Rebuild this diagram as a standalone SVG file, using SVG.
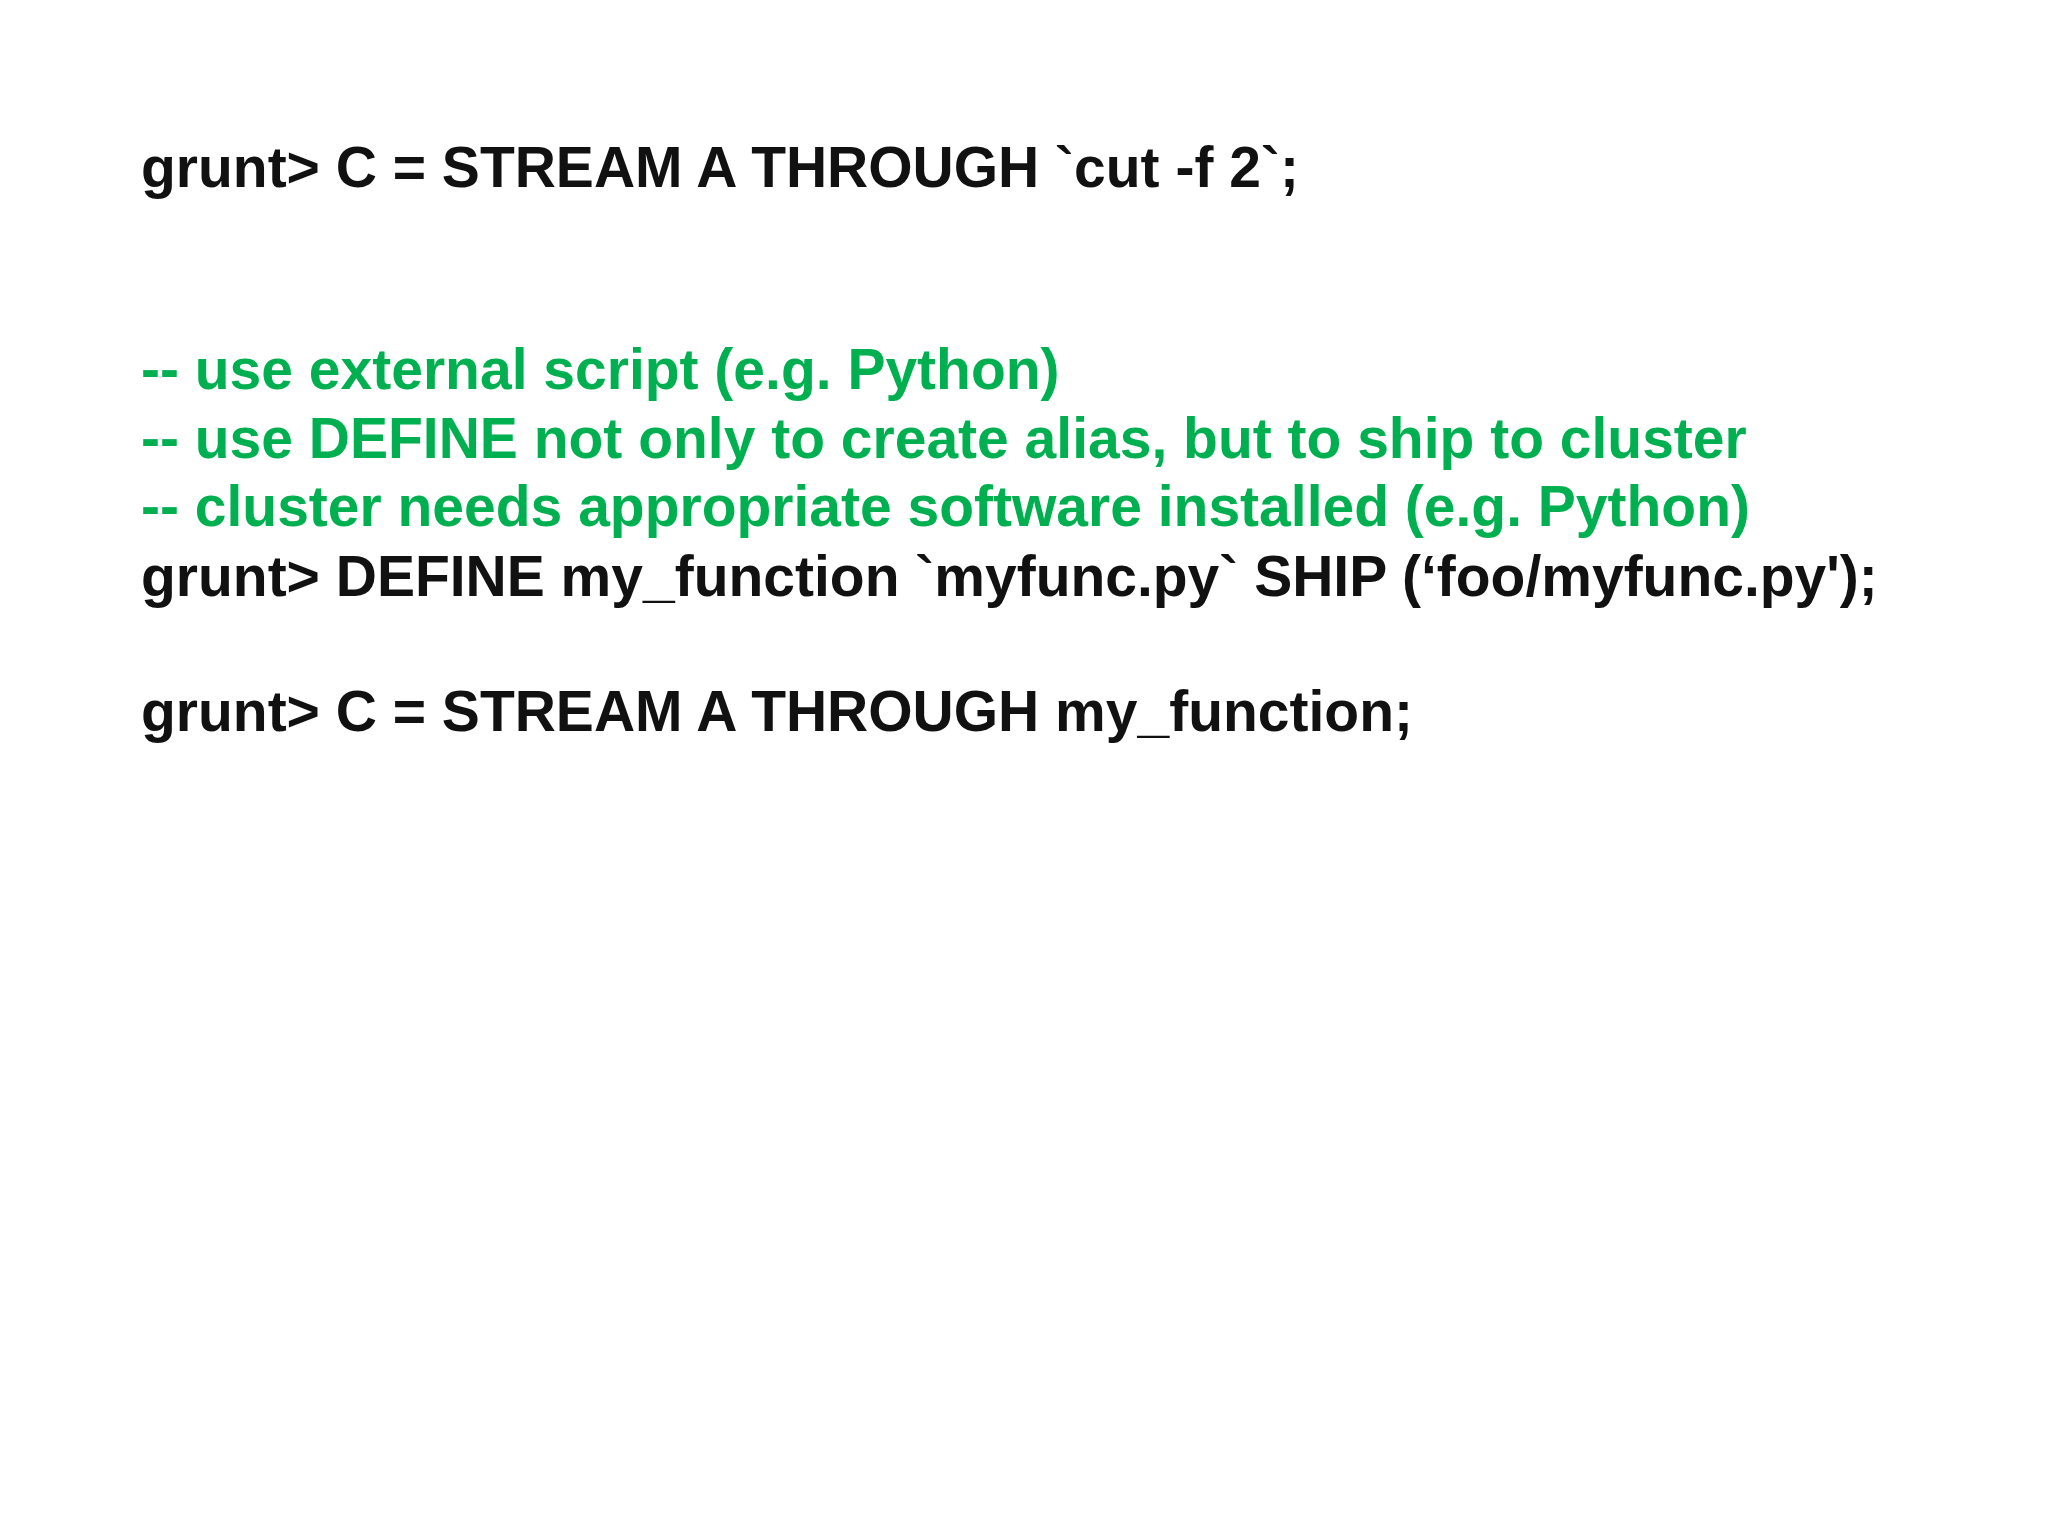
<svg xmlns="http://www.w3.org/2000/svg" width="2048" height="1536" viewBox="0 0 2048 1536">
<style>
text{font-family:"Liberation Sans",Arial,sans-serif;font-weight:bold;font-size:57px;fill:#111}
.c{fill:#00b050}
</style>
<rect width="2048" height="1536" fill="#ffffff"/>
<g id="code">
<text x="141" y="187">grunt&gt; C = STREAM A THROUGH `cut -f 2`;</text>
<text class="c" x="141" y="389">-- use external script (e.g. Python)</text>
<text class="c" x="141" y="458">-- use DEFINE not only to create alias, but to ship to cluster</text>
<text class="c" x="141" y="526">-- cluster needs appropriate software installed (e.g. Python)</text>
<text x="141" y="596">grunt&gt; DEFINE my_function `myfunc.py` SHIP (‘foo/myfunc.py');</text>
<text x="141" y="731">grunt&gt; C = STREAM A THROUGH my_function;</text>
</g>
</svg>
